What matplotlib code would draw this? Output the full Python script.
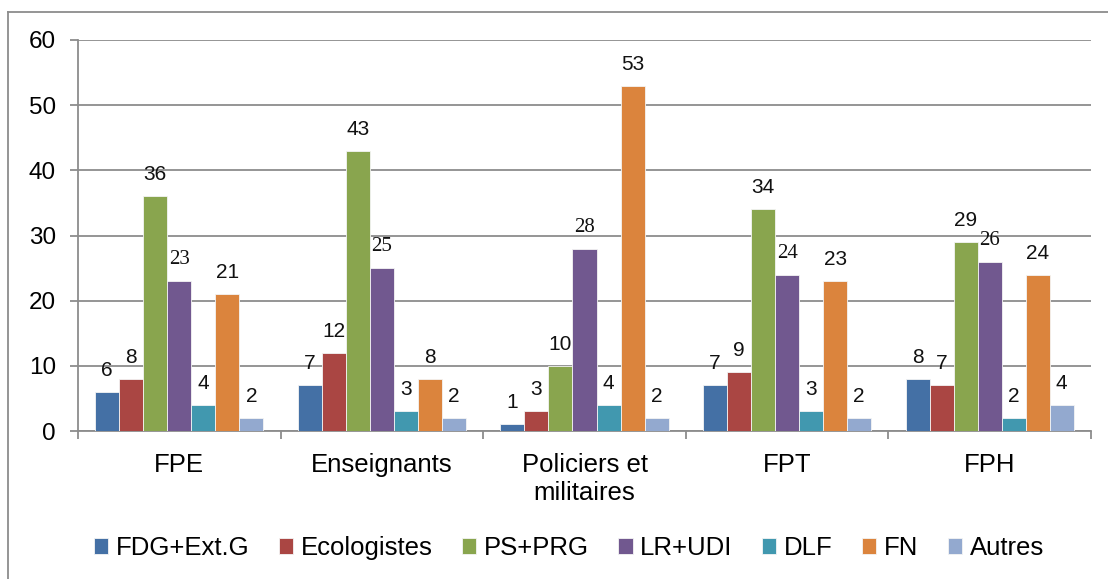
import matplotlib.pyplot as plt
import numpy as np
from matplotlib.lines import Line2D

categories = ["FPE", "Enseignants", "Policiers et\nmilitaires", "FPT", "FPH"]
series_names = ["FDG+Ext.G", "Ecologistes", "PS+PRG", "LR+UDI", "DLF", "FN", "Autres"]
fdg = [6, 7, 1, 7, 8]
ecolo = [8, 12, 3, 9, 7]
ps = [36, 43, 10, 34, 29]
lr = [23, 25, 28, 24, 26]
dlf = [4, 3, 4, 3, 2]
fn = [21, 8, 53, 23, 24]
autres = [2, 2, 2, 2, 4]
values = [fdg, ecolo, ps, lr, dlf, fn, autres]
colors = ["#4470A5", "#AA4643", "#89A54E", "#71588F", "#4198AF", "#DB843D", "#93A9CF"]

W, H = 1108, 579
fig = plt.figure(figsize=(W / 100, H / 100), dpi=100)
ax = fig.add_axes([78 / W, 1 - 431 / H, (1091 - 78) / W, (431 - 40) / H])

x = np.arange(len(categories))
n = len(series_names)
width = 0.83 / n
for i, (name, vals, col) in enumerate(zip(series_names, values, colors)):
    pos = x - 0.83 / 2 + width * (i + 0.5)
    bars = ax.bar(pos, vals, width, color=col, edgecolor="#f4f4f4", linewidth=0.6,
                  label=name, zorder=3)
    fam = "Liberation Serif" if name == "LR+UDI" else "Liberation Sans"
    for b, v in zip(bars, vals):
        ax.annotate(str(v), (b.get_x() + b.get_width() / 2, v), xytext=(0, 15.5),
                    textcoords="offset points", ha="center", va="center",
                    fontsize=15, family=fam, color="#111111")

ax.set_xlim(-0.5, len(categories) - 0.5)
ax.set_ylim(0, 60)
ax.set_yticks(range(0, 61, 10))
ax.yaxis.grid(True, color="#8c8c8c", linewidth=1.3, zorder=0)
ax.set_axisbelow(True)
for s in ["top", "right"]:
    ax.spines[s].set_visible(False)
for s in ["left", "bottom"]:
    ax.spines[s].set_color("#8c8c8c")
    ax.spines[s].set_linewidth(1.3)

ax.set_xticks(x)
ax.set_xticklabels(categories, family="Liberation Sans", fontsize=18.5, linespacing=1.22)
ax.set_xticks(np.arange(-0.5, len(categories), 1), minor=True)
ax.tick_params(axis="x", which="major", length=0, pad=15.5)
ax.tick_params(axis="x", which="minor", length=6, width=1.3, color="#8c8c8c", direction="out")
ax.tick_params(axis="y", length=6, width=1.3, color="#8c8c8c", pad=10)
for lab in ax.get_yticklabels():
    lab.set_family("Liberation Sans")
    lab.set_fontsize(17.5)

ax.legend(loc="center", bbox_to_anchor=(569 / W, 1 - 548 / H), bbox_transform=fig.transFigure,
          ncol=n, frameon=False, prop={"family": "Liberation Sans", "size": 18.5},
          handlelength=0.55, handleheight=0.55, handletextpad=0.3, columnspacing=1.15)

fig.add_artist(Line2D([8 / W, 1], [1 - 11.5 / H, 1 - 11.5 / H], transform=fig.transFigure,
                      color="#8c8c8c", linewidth=1.3))
fig.add_artist(Line2D([8 / W, 8 / W], [0, 1 - 11.5 / H], transform=fig.transFigure,
                      color="#8c8c8c", linewidth=1.3))

fig.savefig("out.png", dpi=100)
